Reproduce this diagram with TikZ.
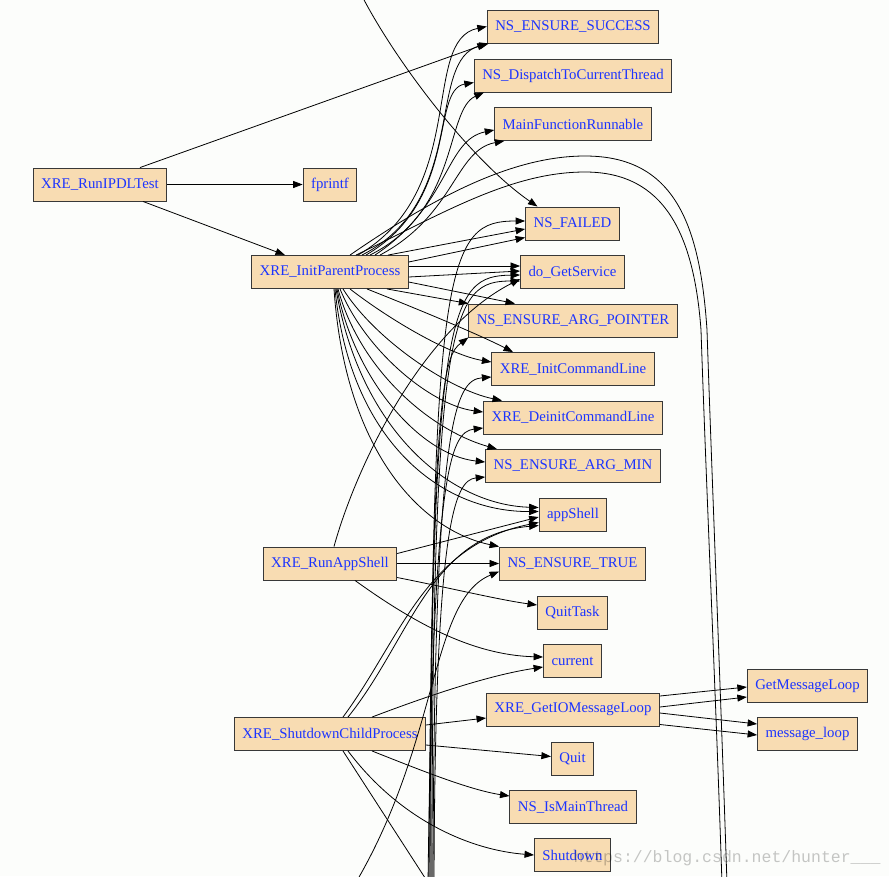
\documentclass[tikz,border=0pt]{standalone}
\usepackage{fontspec}
\setmainfont{Liberation Serif}
\newfontfamily\wmfont{Liberation Mono}
\usetikzlibrary{arrows.meta}
\definecolor{wheat}{RGB}{248,220,178}
\definecolor{fnblue}{RGB}{28,52,255}
\definecolor{paper}{RGB}{252,253,251}
\tikzset{
  fnbox/.style={draw=black!78, fill=wheat, text=fnblue, font=\fontsize{14.8}{17}\selectfont,
    minimum height=33pt, inner xsep=8pt, inner ysep=0pt, line width=0.9pt},
  callarr/.style={line width=0.8pt, -{Triangle[length=9.5pt,width=7pt]}},
  callline/.style={line width=0.8pt}
}

\begin{document}
\begin{tikzpicture}[x=1pt,y=-1pt]
\fill[paper] (0,0) rectangle (889,876);
\useasboundingbox (0,0) rectangle (889,876);
\clip (0,0) rectangle (889,876);

\node[fnbox] (rip) at (100,184.5) {XRE\_RunIPDLTest};
\node[fnbox] (fpf) at (330,184.5) {fprintf};
\node[fnbox] (ipp) at (330,272) {XRE\_InitParentProcess};
\node[fnbox] (ras) at (330,563.5) {XRE\_RunAppShell};
\node[fnbox] (scp) at (330,734) {XRE\_ShutdownChildProcess};
\node[fnbox] (nes) at (573,26.5) {NS\_ENSURE\_SUCCESS};
\node[fnbox] (ndc) at (573,75.5) {NS\_DispatchToCurrentThread};
\node[fnbox] (mfr) at (573,124) {MainFunctionRunnable};
\node[fnbox] (nfl) at (572.5,223.5) {NS\_FAILED};
\node[fnbox] (dgs) at (572.5,272) {do\_GetService};
\node[fnbox] (nap) at (573,320.5) {NS\_ENSURE\_ARG\_POINTER};
\node[fnbox] (icl) at (573,369) {XRE\_InitCommandLine};
\node[fnbox] (dcl) at (573,417.5) {XRE\_DeinitCommandLine};
\node[fnbox] (nam) at (573,466) {NS\_ENSURE\_ARG\_MIN};
\node[fnbox] (ash) at (573,514.5) {appShell};
\node[fnbox] (net) at (572.5,563.5) {NS\_ENSURE\_TRUE};
\node[fnbox] (qtk) at (572.5,612.5) {QuitTask};
\node[fnbox] (cur) at (572.5,661) {current};
\node[fnbox] (gml) at (573,709.5) {XRE\_GetIOMessageLoop};
\node[fnbox] (qit) at (572.5,758.5) {Quit};
\node[fnbox] (imt) at (573,807) {NS\_IsMainThread};
\node[fnbox] (sdn) at (572.5,855) {Shutdown};
\node[fnbox] (gmsl) at (807.5,686) {GetMessageLoop};
\node[fnbox] (mlp) at (807.5,734) {message\_loop};

\coordinate (intop) at (362,-4);
\coordinate (inb) at (431,884);
\coordinate (inbl) at (355,884);
\coordinate (outb) at (429,884);
\coordinate (outr1) at (727,884);
\coordinate (outr2) at (722,884);

\draw[callarr] (rip.east) -- (fpf.west);
\draw[callarr] ([xshift=43pt]rip.south) -- ([xshift=-45pt]ipp.north);
\draw[callarr] ([xshift=40pt]rip.north) -- (nes.south west);
\draw[callarr] (intop) .. controls (395,60) and (470,160) .. ([xshift=-35pt]nfl.north);

\draw[callarr] ([xshift=28pt]ipp.north) .. controls (470,190) and (420,40) .. (nes.west);
\draw[callarr] ([xshift=32pt]ipp.north) .. controls (470,200) and (425,60) .. ([xshift=2pt]nes.south west);
\draw[callarr] ([xshift=36pt]ipp.north) .. controls (460,200) and (430,90) .. ([yshift=-7pt]ndc.west);
\draw[callarr] ([xshift=40pt]ipp.north) .. controls (460,210) and (445,110) .. ([xshift=10pt]ndc.south west);
\draw[callarr] ([xshift=45pt]ipp.north) .. controls (450,205) and (445,140) .. ([yshift=-6pt]mfr.west);
\draw[callarr] ([xshift=50pt]ipp.north) .. controls (455,215) and (455,150) .. ([xshift=10pt]mfr.south west);
\draw[callline] ([xshift=20pt]ipp.north) .. controls (430,200) and (510,156) .. (585,156)
  .. controls (675,156) and (700,225) .. (707,330) .. controls (712,480) and (721,700) .. (outr1);
\draw[callline] ([xshift=26pt]ipp.north) .. controls (440,215) and (510,172) .. (585,172)
  .. controls (665,172) and (694,235) .. (701,330) .. controls (706,480) and (716,700) .. (outr2);
\draw[callarr] ([xshift=58pt]ipp.north) -- ([yshift=-5.5pt]nfl.west);
\draw[callarr] ([yshift=10pt]ipp.east) -- ([yshift=-14pt]nfl.west);
\draw[callarr] ([yshift=6pt]ipp.east) -- ([yshift=6pt]dgs.west);
\draw[callarr] ([yshift=-5pt]ipp.east) -- ([yshift=1pt]dgs.west);
\draw[callarr] ([yshift=-10pt]ipp.east) -- ([xshift=-58pt]nap.north);
\draw[callarr] ([xshift=57pt]ipp.south) -- (nap.north west);
\draw[callarr] ([xshift=37pt]ipp.south) .. controls (420,310) and (480,335) .. ([xshift=-60pt]icl.north);
\draw[callarr] ([xshift=20pt]ipp.south) .. controls (390,320) and (450,355) .. ([yshift=7pt]icl.west);
\draw[callarr] ([xshift=13pt]ipp.south) .. controls (375,340) and (450,390) .. ([xshift=-71pt]dcl.north);
\draw[callarr] ([xshift=10pt]ipp.south) .. controls (365,350) and (430,405) .. ([yshift=5.5pt]dcl.west);
\draw[callarr] ([xshift=8pt]ipp.south) .. controls (360,370) and (430,430) .. ([xshift=-76pt]nam.north);
\draw[callarr] ([xshift=7pt]ipp.south) .. controls (355,380) and (420,455) .. ([yshift=4pt]nam.west);
\draw[callarr] ([xshift=6pt]ipp.south) .. controls (360,430) and (450,505) .. ([yshift=7pt]ash.west);
\draw[callarr] ([xshift=5pt]ipp.south) .. controls (350,440) and (440,512) .. ([yshift=3pt]ash.west);
\draw[callarr] ([xshift=4pt]ipp.south) .. controls (345,450) and (420,530) .. (net.north west);

\draw[callarr] (inb) .. controls (430,255) and (448,221) .. ([yshift=2.5pt]nfl.west);
\draw[callarr] ([xshift=-1pt]inb) .. controls (431,305) and (450,276) .. ([yshift=-3pt]dgs.west);
\draw[callarr] ([xshift=1pt]inb) .. controls (432,312) and (452,281) .. ([yshift=-9pt]dgs.west);
\draw[callarr] ([xshift=-2pt]inb) .. controls (431,380) and (445,355) .. (nap.south west);
\draw[callarr] ([xshift=2pt]inb) .. controls (434,420) and (455,380) .. ([yshift=-8pt]icl.west);
\draw[callarr] ([xshift=-3pt]inb) .. controls (433,470) and (450,432) .. ([yshift=-10.5pt]dcl.west);
\draw[callarr] ([xshift=3pt]inb) .. controls (435,520) and (455,480) .. ([yshift=-11pt]nam.west);
\draw[callarr] (inbl) .. controls (440,740) and (430,600) .. ([yshift=-8pt]net.west);

\draw[callarr] ([xshift=4pt]ras.north) .. controls (355,470) and (420,330) .. ([yshift=-7pt]dgs.west);
\draw[callarr] ([yshift=10pt]ras.east) -- ([yshift=-2.5pt]ash.west);
\draw[callarr] (ras.east) -- (net.west);
\draw[callarr] ([yshift=-14pt]ras.east) .. controls (450,588) and (500,600) .. ([yshift=7.5pt]qtk.west);
\draw[callarr] ([xshift=25pt]ras.south) .. controls (410,620) and (470,655) .. ([yshift=4pt]cur.west);

\draw[callarr] ([xshift=13pt]scp.north) .. controls (400,640) and (425,545) .. ([yshift=-8pt]ash.west);
\draw[callarr] ([xshift=18pt]scp.north) .. controls (410,640) and (430,535) .. ([yshift=-11pt]ash.west);
\draw[callarr] ([xshift=42pt]scp.north) .. controls (430,695) and (490,675) .. ([yshift=-6pt]cur.west);
\draw[callarr] ([yshift=9pt]scp.east) -- ([yshift=-8.5pt]gml.west);
\draw[callarr] ([yshift=-11pt]scp.east) -- ([yshift=2pt]qit.west);
\draw[callarr] ([xshift=42pt]scp.south) .. controls (420,770) and (470,790) .. ([yshift=11pt]imt.west);
\draw[callarr] ([xshift=18pt]scp.south) .. controls (400,820) and (470,850) .. (sdn.west);
\draw[callline] ([xshift=13pt]scp.south) -- (outb);

\draw[callarr] ([yshift=13.5pt]gml.east) -- ([yshift=-1pt]gmsl.west);
\draw[callarr] ([yshift=2.5pt]gml.east) -- ([yshift=-11pt]gmsl.west);
\draw[callarr] ([yshift=-3.5pt]gml.east) -- ([yshift=10pt]mlp.west);
\draw[callarr] ([yshift=-15pt]gml.east) -- ([yshift=-1pt]mlp.west);

\node[anchor=base west, text=black, text opacity=0.22, font=\wmfont\fontsize{16.5}{18}\selectfont]
  (wm) at (570,862) {https://blog.csdn.net/hunter\_\_\_};
\end{tikzpicture}
\end{document}
